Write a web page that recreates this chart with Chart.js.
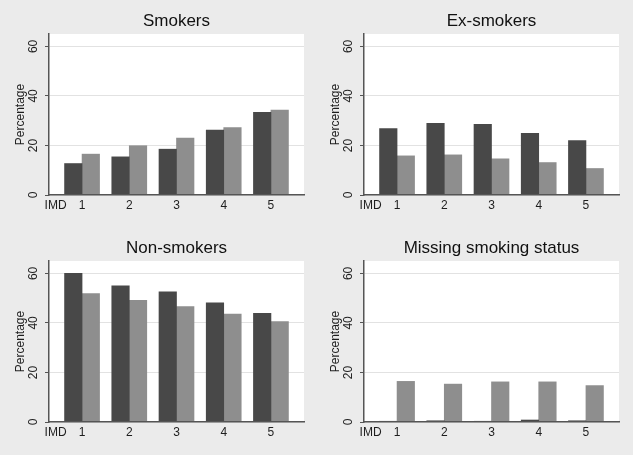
<!DOCTYPE html>
<html>
<head>
<meta charset="utf-8">
<script src="https://cdn.jsdelivr.net/npm/chart.js@4.4.0/dist/chart.umd.min.js"></script>
<style>
  html, body { margin: 0; padding: 0; background: #ebebeb; overflow: hidden; }
  #wrap { position: relative; width: 633px; height: 455px; }
  canvas { position: absolute; }
</style>
</head>
<body>
<div id="wrap">
  <canvas id="c0" width="316" height="227" style="left:0;top:0"></canvas>
  <canvas id="c1" width="316" height="227" style="left:315px;top:0"></canvas>
  <canvas id="c2" width="316" height="227" style="left:0;top:227px"></canvas>
  <canvas id="c3" width="316" height="227" style="left:315px;top:227px"></canvas>
</div>
<script>
// IMD quintiles on the x axis, percentages on y
const imdLevels = ["1", "2", "3", "4", "5"];
const axisName = "IMD";
const yTicks = [0, 20, 40, 60];
const panelTitles = ["Smokers", "Ex-smokers", "Non-smokers", "Missing smoking status"];

const smokersDark = [12.7, 15.4, 18.5, 26.2, 33.4];
const smokersLight = [16.5, 19.9, 23.0, 27.2, 34.3];
const exDark = [26.8, 28.9, 28.5, 24.9, 22.0];
const exLight = [15.8, 16.2, 14.6, 13.1, 10.7];
const nonDark = [60.0, 55.0, 52.6, 48.1, 43.9];
const nonLight = [51.8, 49.1, 46.6, 43.6, 40.5];
const missDark = [0.3, 0.5, 0.3, 0.8, 0.5];
const missLight = [16.4, 15.3, 16.2, 16.2, 14.7];

const panels = [
  [smokersDark, smokersLight],
  [exDark, exLight],
  [nonDark, nonLight],
  [missDark, missLight]
];

Chart.defaults.font.family = "'Liberation Sans', Arial, sans-serif";
Chart.defaults.color = "#1e1e1e";

const plotBg = {
  id: "plotBg",
  afterLayout(chart) {
    // centre the title over the plot region, like Stata does
    const t = chart.titleBlock;
    if (t) { t.left = chart.chartArea.left; t.right = chart.chartArea.right; t.width = t.right - t.left; }
  },
  beforeDraw(chart) {
    const { ctx, chartArea: a } = chart;
    ctx.save();
    ctx.fillStyle = "#ffffff";
    ctx.fillRect(a.left, a.top, a.right - a.left, a.bottom - a.top);
    ctx.restore();
  }
};

const pts = vals => vals.map((v, i) => ({ x: i + 1, y: v }));

panels.forEach((series, k) => {
  new Chart(document.getElementById("c" + k), {
    type: "bar",
    data: {
      datasets: [
        { label: "Series 1", data: pts(series[0]), backgroundColor: "#484848", borderWidth: 0 },
        { label: "Series 2", data: pts(series[1]), backgroundColor: "#8e8e8e", borderWidth: 0 }
      ]
    },
    options: {
      responsive: false,
      animation: false,
      layout: { padding: { left: 0, right: 12, top: 0, bottom: 0 } },
      datasets: { bar: { barThickness: 17.5, grouped: true } },
      plugins: {
        legend: { display: false },
        tooltip: { enabled: false },
        title: {
          display: true,
          text: panelTitles[k],
          color: "#111",
          font: { size: 17, weight: "normal" },
          padding: { top: 11.5, bottom: 2.1 }
        }
      },
      scales: {
        x: {
          type: "linear",
          offset: false,
          min: 0.3,
          max: 5.7,
          afterBuildTicks: axis => {
            axis.ticks = [{ value: 0.44 }].concat(imdLevels.map((l, i) => ({ value: i + 1 })));
          },
          afterFit: s => { s.height = 32; },
          grid: { display: false, drawTicks: false },
          border: { display: true, color: "#555", width: 1.5, z: 1 },
          ticks: {
            autoSkip: false,
            maxRotation: 0,
            padding: 3,
            font: { size: 12 },
            callback: (v, i) => i === 0 ? axisName : imdLevels[i - 1]
          }
        },
        y: {
          min: 0,
          max: 65,
          afterBuildTicks: axis => { axis.ticks = yTicks.map(v => ({ value: v })); },
          afterFit: s => { s.width = 49; },
          grid: { color: "#e2e2e2", lineWidth: 1, tickLength: 4, tickColor: "#555", drawTicks: true },
          border: { display: true, color: "#555", width: 1.5, z: 1 },
          ticks: {
            minRotation: 90,
            maxRotation: 90,
            crossAlign: "center",
            padding: 5,
            font: { size: 12 }
          },
          title: {
            display: true,
            text: "Percentage",
            font: { size: 12 },
            padding: { top: 13.5, bottom: 0 }
          }
        }
      }
    },
    plugins: [plotBg]
  });
});
</script>
</body>
</html>
